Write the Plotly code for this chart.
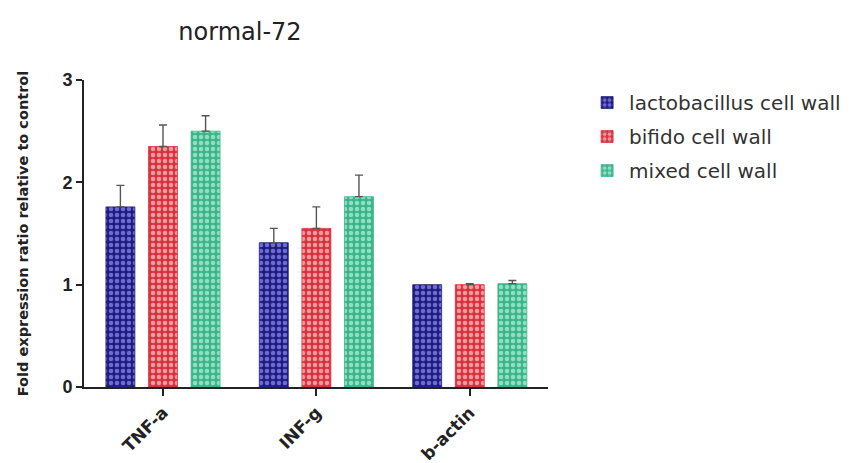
import plotly.graph_objects as go

# Gene targets and treatment groups
genes = ["TNF-a", "INF-g", "b-actin"]
series_names = ["lactobacillus cell wall", "bifido cell wall", "mixed cell wall"]

# Mean fold expression per group (one value per gene)
lacto_mean = [1.76, 1.41, 1.00]
bifido_mean = [2.35, 1.55, 1.00]
mixed_mean = [2.50, 1.86, 1.01]

# Upper error (SEM) per group
lacto_err = [0.21, 0.14, 0.00]
bifido_err = [0.21, 0.21, 0.01]
mixed_err = [0.15, 0.21, 0.03]

y_ticks = [0, 1, 2, 3]

means = [lacto_mean, bifido_mean, mixed_mean]
errs = [lacto_err, bifido_err, mixed_err]
base_colors = ["#1f1e7e", "#d6323f", "#3cb48c"]
dot_colors = ["#6c6cd4", "#f39a9c", "#8fe0bf"]

sans = "Liberation Sans, Arial, sans-serif"
wide = "DejaVu Sans, Verdana, sans-serif"

fig = go.Figure()
for name, m, e, bc, dc in zip(series_names, means, errs, base_colors, dot_colors):
    fig.add_trace(go.Bar(
        x=genes, y=m, name=name,
        legendgroup=name,
        marker=dict(
            color=bc,
            line=dict(color=bc, width=0.8),
            pattern=dict(shape=".", bgcolor=bc, fgcolor=dc, size=6,
                         solidity=0.45, fillmode="replace"),
        ),
        error_y=dict(type="data", symmetric=False, array=e,
                     arrayminus=[0] * len(e), color="#555555",
                     thickness=1.4, width=4),
    ))

fig.update_layout(
    width=860, height=463,
    margin=dict(l=84, r=312, t=80, b=76),
    paper_bgcolor="white", plot_bgcolor="white",
    barmode="group", bargap=0.167, bargroupgap=0.32,
    font=dict(family=sans, color="#222222"),
    title=dict(text="normal-72", x=240 / 860, xanchor="center",
               xref="container", y=1 - 32 / 463, yref="container",
               yanchor="middle", font=dict(size=24, family=wide, color="#222222")),
    showlegend=True,
    legend=dict(x=1.08, xanchor="left", y=0.99, yanchor="top",
                font=dict(size=20, family=wide, color="#333333"),
                tracegroupgap=5, itemwidth=34,
                bgcolor="rgba(0,0,0,0)"),
)

fig.update_xaxes(
    range=[-0.515, 2.51], automargin=False,
    showline=True, linecolor="#222222", linewidth=2,
    ticks="outside", ticklen=7, tickwidth=2, tickcolor="#222222",
    tickangle=-45,
    tickfont=dict(size=17, family=wide, color="#222222", weight="bold"),
    showgrid=False, zeroline=False,
)

fig.update_yaxes(
    range=[0, 3], tickvals=y_ticks, automargin=False,
    showline=True, linecolor="#222222", linewidth=2,
    ticks="outside", ticklen=6, tickwidth=2, tickcolor="#222222",
    tickfont=dict(size=18, color="#222222", weight="bold"),
    showgrid=False, zeroline=False,
    title=dict(text="Fold expression ratio relative to control",
               font=dict(size=14.5, family=wide, color="#222222", weight="bold"),
               standoff=30),
)

fig.write_html("out.html")
